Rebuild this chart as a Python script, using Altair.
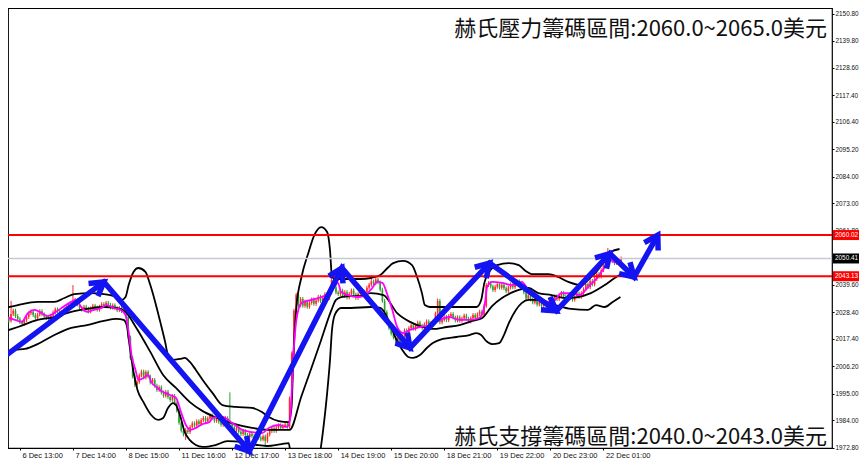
import math
import altair as alt
import pandas as pd

# ---------------- data ----------------
# hourly closes, bar 0 .. 279
closes = [
    2024.5, 2025.8, 2024.9, 2027.6, 2029.0, 2026.8, 2025.5, 2024.3, 2023.6, 2025.1,
    2026.4, 2027.9, 2028.6, 2027.2, 2026.0, 2027.4, 2028.8, 2027.5, 2026.6, 2026.0,
    2025.6, 2026.9, 2028.2, 2029.5, 2028.7, 2027.3, 2028.4, 2029.6, 2030.5, 2031.2,
    2032.0,
    2032.5, 2033.4, 2031.6, 2030.2, 2029.4, 2030.6, 2029.8, 2028.7, 2029.9, 2031.0,
    2030.2, 2029.4, 2030.6, 2031.7, 2031.0, 2032.2, 2031.4, 2030.3, 2031.2, 2030.0,
    2029.2, 2030.1, 2028.8, 2029.5,
    2026.5, 2018.0, 2009.5, 2002.0, 1998.5, 1999.8, 2002.5, 2004.0, 2001.6, 2003.8,
    2002.0, 1999.5, 2000.6, 1998.2, 1996.5, 1997.6, 1995.4, 1994.1, 1995.7, 1993.6,
    1992.4, 1994.0, 1991.0, 1988.0,
    1983.0, 1979.8, 1978.2, 1980.0, 1979.2, 1981.3, 1982.8, 1981.9, 1983.6, 1982.5,
    1984.1, 1985.0, 1983.6, 1984.8, 1986.0, 1985.0, 1983.8, 1984.9, 1983.4, 1982.2,
    1983.5, 1984.9, 1983.6, 1982.4,
    1981.3, 1980.0, 1980.8, 1979.3, 1978.4, 1979.6, 1978.0, 1977.2, 1978.5, 1977.6,
    1976.6, 1977.8, 1976.9, 1976.2, 1977.4, 1975.6, 1978.2, 1979.6, 1980.8, 1979.7,
    1981.0, 1982.0, 1980.9, 1981.7, 1982.3, 1981.4,
    1993.0, 2011.5, 2029.0, 2035.5, 2031.2, 2033.8, 2031.0, 2032.7, 2030.6, 2032.2,
    2033.6, 2031.8, 2033.2, 2034.7, 2033.0, 2034.3, 2035.8, 2034.2, 2036.4, 2041.5,
    2038.6, 2036.5,
    2035.8, 2037.2, 2035.0, 2036.6, 2034.4, 2035.9, 2037.3, 2035.6, 2034.2, 2035.8,
    2037.0, 2035.5, 2036.8, 2038.4, 2039.6, 2041.0, 2040.2, 2041.8, 2040.6, 2037.6,
    2033.0, 2028.4, 2024.5, 2021.8,
    2019.6, 2018.0, 2016.4, 2017.9, 2016.1, 2018.6, 2020.9, 2019.7, 2021.8, 2023.0,
    2021.6, 2022.9, 2024.1, 2022.8, 2021.9, 2023.4, 2024.6, 2023.2, 2024.0, 2024.5,
    2027.8, 2033.0, 2024.2, 2025.3,
    2026.4, 2025.1, 2026.8, 2027.6, 2026.2, 2025.0, 2026.3, 2024.9, 2025.8, 2027.0,
    2025.7, 2024.6, 2025.9, 2027.2, 2026.0, 2027.5, 2028.6, 2027.3, 2031.0, 2039.5,
    2040.3, 2038.9, 2037.5, 2038.8,
    2039.9, 2038.4, 2039.6, 2038.2, 2037.0, 2038.5, 2039.8, 2038.6, 2039.9, 2041.0,
    2039.7, 2038.3, 2036.5, 2034.0, 2035.3, 2033.6, 2032.4, 2033.8, 2031.5, 2032.7,
    2030.9, 2032.2, 2031.0, 2029.8,
    2032.0, 2033.6, 2034.9, 2033.7, 2035.2, 2036.3, 2035.0, 2034.1, 2035.4, 2034.2,
    2033.5, 2034.8, 2036.0, 2034.7, 2036.2, 2037.8, 2039.9, 2038.6, 2041.2, 2039.8,
    2042.0, 2044.1, 2043.0, 2045.6,
    2048.8, 2051.5, 2053.2, 2051.0, 2049.3, 2048.5, 2049.6, 2048.9, 2050.4,
]
first_open = 2024.0
spike_high = {3: 2033.0, 31: 2039.5, 102: 1995.5, 148: 2047.5, 166: 2043.5, 196: 2034.0, 273: 2054.7}
spike_low = {82: 1976.0, 118: 1973.2, 180: 2014.8, 245: 2028.0}

# magenta short moving average
ma_x = [0.3, 1.6, 4.8, 7.9, 10.6, 13.7, 16.8, 19.5, 22.6, 25.8, 30.2, 32.5, 34.7, 37.4, 40.5,
        43.7, 46.3, 49.5, 52.6, 54.8, 56.2, 57.5, 59.3, 60.6, 62.9, 65.1, 66.4, 68.7, 71.8,
        74.9, 77.6, 79.9, 82.1, 84.3, 86.6, 89.7, 92.8, 94.2, 98.6, 103.1, 107.6, 112.0,
        116.5, 119.6, 124.1, 127.8, 129.2, 130.8, 132.1, 134.4, 138.9, 143.3, 146.9, 149.1,
        150.9, 152.3, 155.4, 159.9, 162.5, 165.7, 168.8, 171.0, 173.3, 175.5, 177.7, 180.4,
        183.5, 188.0, 192.5, 197.0, 201.4, 205.9, 210.4, 214.8, 217.1, 218.4, 220.6, 225.1,
        229.6, 234.0, 237.2, 241.6, 246.1, 249.2, 251.9, 256.4, 260.4, 264.0, 268.5, 271.6,
        273.8, 276.1, 278.3]
ma_y = [2022.3, 2026.0, 2025.2, 2024.4, 2028.0, 2029.3, 2028.0, 2026.8, 2028.0, 2030.1, 2032.6,
        2033.4, 2030.5, 2028.5, 2029.3, 2030.1, 2031.3, 2030.1, 2029.3, 2027.2, 2020.2, 2010.8,
        2004.7, 2000.6, 2001.4, 2002.6, 1999.8, 1997.7, 1995.6, 1994.4, 1993.2, 1987.4, 1982.1,
        1980.1, 1980.9, 1982.5, 1983.3, 1985.0, 1985.4, 1982.9, 1980.1, 1979.2, 1978.8, 1980.9,
        1982.1, 1981.3, 1984.2, 2011.6, 2025.2, 2032.1, 2033.4, 2034.6, 2036.2, 2038.7, 2040.4,
        2036.7, 2035.4, 2034.6, 2035.0, 2037.5, 2040.8, 2040.4, 2035.4, 2029.3, 2022.3, 2019.8,
        2021.1, 2022.3, 2023.1, 2025.2, 2026.4, 2025.2, 2025.2, 2026.0, 2030.5, 2038.7, 2040.8,
        2040.4, 2039.5, 2040.8, 2037.5, 2034.6, 2032.6, 2033.4, 2036.2, 2036.2, 2035.4, 2038.7,
        2042.8, 2046.9, 2049.8, 2048.9, 2048.5]

# Bollinger bands
up_x = [0.3, 6.1, 15.0, 22.6, 27.1, 31.6, 39.2, 45.0, 49.5, 53.0, 54.8, 56.2, 58.4, 60.6, 63.8,
        66.0, 68.2, 70.5, 72.7, 74.0, 76.3, 79.4, 81.6, 83.9, 86.6, 89.7, 94.2, 98.6, 104.4,
        112.0, 116.5, 119.6, 124.1, 128.6, 129.9, 130.8, 132.1, 134.4, 137.5, 140.2, 143.3,
        146.0, 147.3, 148.2, 150.0, 154.5, 161.2, 165.7, 170.1, 173.3, 175.9, 180.4, 184.4,
        186.7, 188.9, 190.2, 192.5, 202.8, 213.5, 215.7, 217.1, 219.3, 222.9, 228.2, 232.7,
        235.8, 238.5, 246.1, 250.6, 255.1, 260.9, 264.0, 268.5, 271.6, 274.3, 278.3]
up_y = [2030.1, 2031.3, 2032.6, 2032.6, 2034.2, 2035.8, 2036.2, 2035.8, 2035.0, 2033.4, 2034.6,
        2039.5, 2044.9, 2046.5, 2044.9, 2039.5, 2032.6, 2024.4, 2016.2, 2010.8, 2008.8, 2009.2,
        2009.6, 2008.0, 2004.7, 2000.6, 1995.2, 1990.3, 1989.5, 1989.1, 1987.4, 1985.4, 1983.7,
        1983.3, 1989.5, 2011.6, 2030.5, 2042.8, 2052.7, 2060.0, 2063.3, 2061.3, 2053.9, 2042.8,
        2042.0, 2042.0, 2042.0, 2042.4, 2043.6, 2046.5, 2048.5, 2049.4, 2047.7, 2042.8, 2036.2,
        2031.3, 2030.5, 2030.5, 2030.5, 2033.4, 2040.3, 2044.9, 2047.7, 2048.5, 2047.7, 2045.3,
        2044.0, 2044.0, 2042.8, 2040.8, 2039.5, 2041.6, 2045.7, 2049.8, 2053.1, 2054.3]
mid_x = [0.3, 6.1, 15.0, 22.6, 30.2, 37.4, 45.0, 50.8, 54.8, 59.7, 66.0, 71.8, 77.6, 83.9, 89.7,
         94.2, 98.6, 104.4, 112.0, 119.6, 126.8, 129.0, 134.4, 138.9, 143.3, 147.8, 150.0,
         152.3, 156.7, 161.2, 165.7, 171.5, 177.7, 183.5, 189.3, 193.8, 200.1, 205.9, 211.7,
         216.2, 220.6, 225.1, 231.4, 237.2, 241.6, 247.5, 253.7, 259.5, 265.3, 271.6, 276.1, 278.3]
mid_y = [2020.6, 2022.3, 2025.2, 2026.4, 2028.5, 2029.7, 2030.5, 2030.1, 2028.5, 2021.9, 2012.1,
         2002.6, 1997.3, 1991.5, 1987.8, 1985.8, 1984.2, 1982.5, 1980.9, 1980.1, 1980.1, 1980.1,
         1994.0, 2005.5, 2017.0, 2028.9, 2033.4, 2034.6, 2035.0, 2035.0, 2036.2, 2035.4, 2028.0,
         2024.4, 2022.3, 2021.5, 2022.3, 2023.1, 2024.8, 2026.0, 2030.9, 2034.2, 2037.1, 2038.3,
         2036.2, 2035.4, 2034.2, 2034.6, 2036.2, 2039.5, 2042.4, 2043.6]
lo_x = [0.3, 4.8, 9.2, 15.0, 22.6, 30.2, 37.4, 45.0, 50.8, 53.9, 55.3, 56.6, 58.4, 60.2, 62.9,
        66.4, 69.6, 71.8, 74.0, 76.3, 77.6, 79.4, 81.6, 83.9, 86.6, 89.7, 95.5, 100.9, 107.6,
        114.3, 118.7, 125.4, 128.6, 129.5, 130.8, 133.0, 136.6, 139.7, 142.4, 144.2, 146.0,
        147.3, 148.2, 149.6, 152.3, 156.7, 165.7, 170.1, 173.7, 176.8, 180.0, 182.7, 184.9,
        188.0, 191.1, 193.8, 198.3, 204.5, 210.4, 213.5, 215.7, 217.9, 220.6, 223.8, 226.0,
        228.2, 231.4, 234.0, 237.2, 241.6, 249.2, 256.4, 264.0, 267.6, 271.6, 275.2, 278.7]
lo_y = [2010.8, 2012.9, 2013.3, 2015.3, 2019.0, 2021.9, 2023.1, 2024.8, 2025.6, 2025.2, 2023.1,
        2014.9, 2003.9, 1996.5, 1991.5, 1986.2, 1984.2, 1985.0, 1989.1, 1991.1, 1990.3, 1986.2,
        1979.2, 1975.9, 1973.9, 1973.1, 1973.9, 1975.5, 1975.1, 1973.9, 1973.5, 1974.3, 1974.7,
        1969.8, 1959.5, 1947.2, 1943.1, 1949.3, 1967.8, 1980.1, 1995.2, 2008.8, 2021.1, 2027.6,
        2030.1, 2030.1, 2030.5, 2030.1, 2025.2, 2018.2, 2012.9, 2010.0, 2009.6, 2010.8, 2013.7,
        2015.7, 2017.4, 2018.2, 2019.0, 2019.8, 2019.0, 2016.6, 2015.3, 2015.7, 2019.0, 2023.9,
        2029.3, 2032.1, 2033.4, 2033.4, 2031.3, 2029.7, 2029.3, 2031.3, 2030.5, 2032.6, 2034.6]

# hand-drawn blue arrows (vertices, each segment ends in a head)
arrow_x = [0.3, 45.0, 110.8, 152.7, 183.5, 219.5, 249.7, 273.9, 284.9, 295.6]
arrow_y = [2010.4, 2040.8, 1971.4, 2046.5, 2013.7, 2048.5, 2028.9, 2052.4, 2042.8, 2060.0]

# horizontal price levels
resist_level = 2060.02
support_level = 2043.13
last_price = 2050.41

# axes
y_ticks = [2150.8, 2139.8, 2128.6, 2117.4, 2106.4, 2095.2, 2084.0, 2073.0, 2061.8,
           2039.6, 2028.4, 2017.4, 2006.2, 1995.0, 1984.0, 1972.8]
x_ticks = [7, 31, 55, 79, 103, 127, 151, 175, 199, 223, 247, 271]
x_labels = ["6 Dec 13:00", "7 Dec 14:00", "8 Dec 15:00", "11 Dec 16:00", "12 Dec 17:00",
            "13 Dec 18:00", "14 Dec 19:00", "15 Dec 20:00", "18 Dec 21:00", "19 Dec 22:00",
            "20 Dec 23:00", "22 Dec 01:00"]

title_top = "赫氏壓力籌碼區間:2060.0~2065.0美元"
title_bottom = "赫氏支撐籌碼區間:2040.0~2043.0美元"

# ---------------- layout / style ----------------
W, H = 824, 440
X0, X1 = 3.88, 372.15
Y0, Y1 = 1972.67, 2153.15
BLUE = "#1414f2"
RED_C = "#ff2a2a"
GREEN_C = "#2f9e2f"
AX_FONT = "Liberation Sans"

xs = alt.Scale(domain=[X0, X1], nice=False, zero=False)
ys = alt.Scale(domain=[Y0, Y1], nice=False, zero=False)
label_expr = "[" + ",".join("'%s'" % s for s in x_labels) + "][round((datum.value-7)/24)]"
xaxis = alt.Axis(values=x_ticks, labelExpr=label_expr, title=None, grid=False, domain=False,
                 tickSize=2, tickColor="#000", labelAlign="left", labelOffset=2,
                 labelPadding=1, labelFontSize=7.5, labelFont=AX_FONT, labelColor="#111",
                 labelBaseline="top")
yaxis = alt.Axis(orient="right", values=y_ticks, format=".2f", title=None, grid=False,
                 domain=False, tickSize=2, tickColor="#000", labelPadding=1,
                 labelFontSize=6.4, labelFont=AX_FONT, labelColor="#111")


def X(field):
    return alt.X(field, type="quantitative", scale=xs, axis=xaxis)


def Y(field):
    return alt.Y(field, type="quantitative", scale=ys, axis=yaxis)


# candles
opens = [first_open] + closes[:-1]
rows = []
for i, (o, c) in enumerate(zip(opens, closes)):
    hi = spike_high.get(i, max(o, c) + 0.8)
    lo = spike_low.get(i, min(o, c) - 0.8)
    if abs(c - o) < 0.35:
        c = o + (0.35 if c >= o else -0.35)
    rows.append({"bar": i, "open": o, "close": c, "high": hi, "low": lo,
                 "dir": "up" if c >= o else "down"})
cdf = pd.DataFrame(rows)
ccolor = alt.Color("dir:N", scale=alt.Scale(domain=["up", "down"], range=[RED_C, GREEN_C]),
                   legend=None)

wicks = alt.Chart(cdf).mark_rule(strokeWidth=1, clip=True).encode(
    x=X("bar"), y=Y("low"), y2="high", color=ccolor)
bodies = alt.Chart(cdf).mark_bar(size=1.6, clip=True).encode(
    x=X("bar"), y=Y("open"), y2="close", color=ccolor)


def line_df(xv, yv):
    return pd.DataFrame({"x": xv, "y": yv, "o": list(range(len(xv)))})


band_layers = []
for bx, by in [(up_x, up_y), (mid_x, mid_y), (lo_x, lo_y)]:
    band_layers.append(
        alt.Chart(line_df(bx, by)).mark_line(color="#000", strokeWidth=1.8,
                                             interpolate="monotone", clip=True)
        .encode(x=X("x"), y=Y("y"), order="o:Q"))

ma_line = alt.Chart(line_df(ma_x, ma_y)).mark_line(
    color="#ff00ff", strokeWidth=1.8, interpolate="monotone", clip=True
).encode(x=X("x"), y=Y("y"), order="o:Q")

levels = pd.DataFrame({"p": [resist_level, support_level]})
red_lines = alt.Chart(levels).mark_rule(color="#ff0000", strokeWidth=2).encode(y=Y("p"))
gray_line = alt.Chart(pd.DataFrame({"p": [last_price]})).mark_rule(
    color="#c5cad2", strokeWidth=1.5).encode(y=Y("p"))

# arrows
arrows = alt.Chart(line_df(arrow_x, arrow_y)).mark_line(
    color=BLUE, strokeWidth=5.5, strokeJoin="miter", strokeCap="butt", clip=False
).encode(x=X("x"), y=Y("y"), order="o:Q")

kx = W / (X1 - X0)
ky = H / (Y1 - Y0)
heads = []
for i in range(1, len(arrow_x)):
    dx = (arrow_x[i] - arrow_x[i - 1]) * kx
    dy = -(arrow_y[i] - arrow_y[i - 1]) * ky
    ang = math.degrees(math.atan2(dx, -dy)) % 360
    heads.append({"x": arrow_x[i], "y": arrow_y[i], "a": ang})
hdf = pd.DataFrame(heads)
arrow_heads = alt.Chart(hdf).mark_point(
    shape="M -0.6 1 L 0 0 L 0.6 1", filled=False, size=700, strokeWidth=5.5,
    color=BLUE, opacity=1, strokeJoin="miter", strokeCap="butt"
).encode(x=X("x"), y=Y("y"), angle=alt.Angle("a:Q", scale=None))

# right-side price tags
red_tags = pd.DataFrame({"p": [resist_level, support_level], "t": ["2060.02", "2043.13"]})
black_tags = pd.DataFrame({"p": [last_price], "t": ["2050.41"]})
red_box = alt.Chart(red_tags).mark_rule(strokeWidth=10, strokeCap="butt", color="#ff0000").encode(
    y=Y("p"), x=alt.value(825), x2=alt.value(851))
black_box = alt.Chart(black_tags).mark_rule(strokeWidth=10, strokeCap="butt", color="#000000").encode(
    y=Y("p"), x=alt.value(825), x2=alt.value(851))
tag_text = alt.Chart(pd.concat([red_tags, black_tags])).mark_text(
    align="left", baseline="middle", fontSize=6.4, font=AX_FONT, color="#ffffff"
).encode(y=Y("p"), x=alt.value(827), text="t:N")

top_text = alt.Chart(pd.DataFrame({"t": [title_top]})).mark_text(
    align="right", baseline="middle", fontSize=22, font="Noto Sans CJK TC", color="#111"
).encode(text="t:N", x=alt.value(819), y=alt.value(21))
bottom_text = alt.Chart(pd.DataFrame({"t": [title_bottom]})).mark_text(
    align="right", baseline="middle", fontSize=22, font="Noto Sans CJK TC", color="#111"
).encode(text="t:N", x=alt.value(819), y=alt.value(429))

chart = alt.layer(
    wicks, bodies, *band_layers, ma_line, gray_line, red_lines, arrows, arrow_heads,
    red_box, black_box, tag_text, top_text, bottom_text
).properties(
    width=W, height=H,
    autosize=alt.AutoSizeParams(type="none"),
    padding={"left": 0, "top": 0, "right": 27, "bottom": 11},
    background="#ffffff",
).configure_view(stroke="#000000", strokeWidth=1.2)

chart.save("out.html", embed_options={"renderer": "svg", "actions": False})
